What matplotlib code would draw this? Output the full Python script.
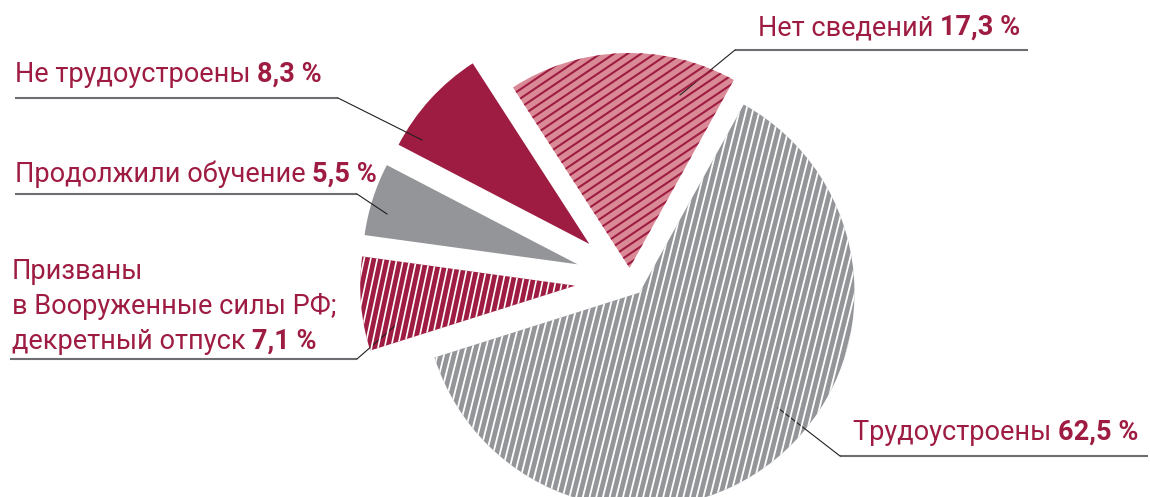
import numpy as np
import matplotlib
matplotlib.use("Agg")
import matplotlib.pyplot as plt
from matplotlib.collections import LineCollection

# -----------------------------
# DATA
# -----------------------------
labels = ["Нет сведений", "Не трудоустроены", "Продолжили обучение",
          "Призваны\nв Вооруженные силы РФ;\nдекретный отпуск", "Трудоустроены"]
values = [17.3, 8.3, 5.5, 7.1, 62.5]
value_text = ["17,3 %", "8,3 %", "5,5 %", "7,1 %", "62,5 %"]

# -----------------------------
# STYLE
# -----------------------------
CRIMSON = "#9e1c41"
PINK = "#d98a96"
GRAY = "#939598"
TEXT = "#9e1c41"
W, H = 1150, 497

fills = [PINK, CRIMSON, GRAY, CRIMSON, GRAY]
# hatch: (line colour, angle deg, spacing px, width pt) or None
hatches = [(CRIMSON, 34, 7.6, 1.5), None, None, ("white", 78, 6.4, 1.2), ("white", 76, 6.5, 1.3)]
explode = [13, 55, 55, 55, 15]   # pixels

plt.rcParams["font.family"] = ["Roboto", "DejaVu Sans"]

fig = plt.figure(figsize=(W / 100, H / 100), dpi=100)
ax = fig.add_axes([0, 0, 1, 1])


def py(y):
    # image row -> axes y
    return H - y


wedges, _ = ax.pie(values, colors=fills, explode=explode, startangle=61,
                   counterclock=True, center=(630, py(281)), radius=215,
                   frame=True, wedgeprops=dict(linewidth=0))
ax.set_xlim(0, W)
ax.set_ylim(0, H)
ax.axis("off")

# hatch lines clipped to the wedges
for w, h in zip(wedges, hatches):
    if h is None:
        continue
    col, ang, step, lw = h
    a = np.deg2rad(ang)
    d = np.array([np.cos(a), np.sin(a)])
    n = np.array([-np.sin(a), np.cos(a)])
    cx, cy = w.center
    segs = []
    for k in np.arange(-300, 300, step):
        p = np.array([cx, cy]) + n * k
        segs.append([p - d * 400, p + d * 400])
    lc = LineCollection(segs, colors=col, linewidths=lw, zorder=3)
    ax.add_collection(lc)
    lc.set_clip_path(w)

fig.canvas.draw()
renderer = fig.canvas.get_renderer()
FS = 19.5


def label(x, y, regular, bold):
    t = ax.text(x, py(y), regular + " ", fontsize=FS, color=TEXT,
                va="baseline", ha="left")
    bb = t.get_window_extent(renderer=renderer)
    x2 = ax.transData.inverted().transform((bb.x1, bb.y0))[0]
    ax.text(x2, py(y), bold, fontsize=FS, color=TEXT, fontweight="bold",
            va="baseline", ha="left")


def leader(x0, x1, y, tip):
    # horizontal rule under the label, then a thin pointer to the slice
    ax.plot([x0, x1], [py(y), py(y)], color="#6d6e71", lw=1.5, solid_capstyle="butt")
    knee = x1 if tip[0] > x1 else x0
    ax.plot([knee, tip[0]], [py(y), py(tip[1])], color="#231f20", lw=0.8)


# Нет сведений
label(758, 35, labels[0], value_text[0])
leader(735, 1028, 50, (680, 95))

# Не трудоустроены
label(15, 82, labels[1], value_text[1])
leader(15, 338, 98, (422, 140))

# Продолжили обучение
label(15, 182, labels[2], value_text[2])
leader(15, 357, 194, (387, 214))

# Призваны ...
lines = labels[3].split("\n")
ax.text(12, py(279), lines[0], fontsize=FS, color=TEXT, va="baseline")
ax.text(12, py(314), lines[1], fontsize=FS, color=TEXT, va="baseline")
label(12, 349, lines[2], value_text[3])
leader(10, 357, 359, (397, 324))

# Трудоустроены
label(853, 440, labels[4], value_text[4])
leader(840, 1148, 456, (778, 408))

fig.savefig("out.png", dpi=100)
